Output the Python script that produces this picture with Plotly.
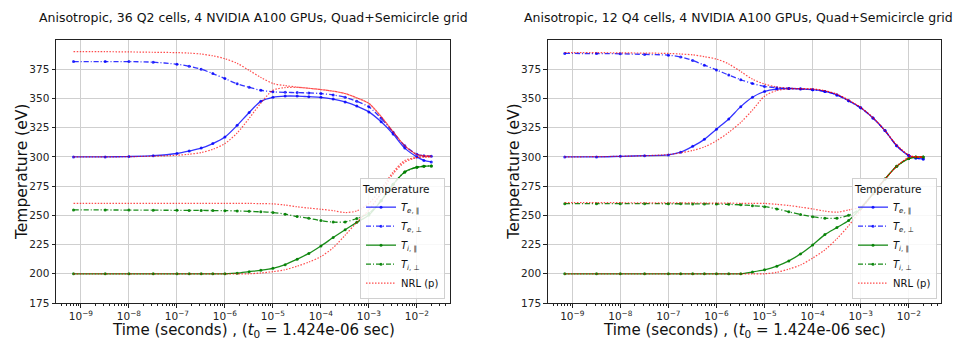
import plotly.graph_objects as go

# ---------------- data ----------------
time_s = [7.0e-10, 3.2e-9, 1.0e-8, 3.2e-8, 1.0e-7, 1.8e-7, 3.2e-7, 5.6e-7,
          1.0e-6, 1.8e-6, 3.2e-6, 5.6e-6, 1.0e-5, 1.8e-5, 3.2e-5, 5.6e-5,
          1.0e-4, 1.8e-4, 3.2e-4, 5.6e-4, 1.0e-3, 1.8e-3, 3.2e-3, 5.6e-3,
          1.0e-2, 1.4e-2, 2.0e-2]

# Left panel: 36 Q2 cells
L_te_par = [300, 300, 300.3, 301, 302.9, 305, 307.5, 311.4, 317, 327, 338, 347.5, 351,
            352, 352, 351.5, 351, 349.5, 347, 343.5, 338.5, 330, 319.5, 307.5, 300, 297, 295.7]
L_te_perp = [381.5, 381.5, 381.5, 381, 379.3, 377.5, 375, 371.3, 367, 362.5, 359.5, 357, 355.7,
             355.2, 355, 354.7, 354.2, 353, 351, 347.5, 342.8, 333, 321, 309.5, 302.3, 301, 300.6]
L_ti_par = [200, 200, 200, 200, 200, 200, 200, 200, 200, 200.5, 201.8, 203, 204.7,
            207.8, 212.5, 217.4, 223.8, 231, 237.7, 244, 250.3, 262.5, 276.5, 287, 291.2, 292, 292.3]
L_ti_perp = [254.6, 254.6, 254.5, 254.4, 254.3, 254.2, 254.2, 254.1, 254, 253.8, 253.4, 253, 252.4,
             251, 249, 247.5, 245.5, 244.2, 244.4, 247.3, 251.8, 262.5, 276.5, 287, 291.2, 292, 292.3]
L_nrl_e1 = [390, 390, 389.8, 389.5, 389.2, 388.8, 388, 386.5, 384, 380, 374, 368, 362.8,
            361, 359.7, 358.7, 357.6, 356.2, 354.2, 350.5, 345.7, 334.5, 321.5, 309.5, 302, 301, 300.6]
L_nrl_e2 = [300, 300, 300.2, 300.6, 301.4, 302.3, 303.7, 306.5, 311.4, 320.5, 333, 346, 357,
            359.3, 359.5, 358.7, 357.6, 356.2, 354.2, 350.5, 345.7, 334.5, 321.5, 309.5, 302, 301, 300.6]
L_nrl_i1 = [260.3, 260.3, 260.3, 260.3, 260.3, 260.3, 260.3, 260.3, 260.3, 260.2, 260.2, 260, 259.8,
            258.8, 257.3, 256.2, 255.2, 254, 252.4, 253.8, 260.3, 272.5, 287, 297, 299.5, 300, 300]
L_nrl_i2 = [200, 200, 200, 200, 200, 200, 200, 200, 200, 200, 200, 200.7, 201.8,
            203.5, 206.5, 210, 214.7, 222.3, 233, 244, 254.6, 269, 285.5, 295.5, 299.5, 300, 300]

# Right panel: 12 Q4 cells
R_te_par = [300, 300, 300.5, 301, 301.7, 304, 309, 315, 323.7, 332.5, 343, 351, 356,
            358, 358.5, 358.2, 357.5, 356, 353, 348, 342, 333.3, 322.5, 309.5, 301.1, 299, 298.3]
R_te_perp = [388.5, 388.4, 388.2, 387.7, 387, 385.5, 382.5, 378.5, 374.4, 370, 366, 362.8, 360.3,
             359.2, 358.6, 358, 357.5, 356, 353, 348, 342, 333.3, 322.5, 309.5, 301.1, 299, 298.3]
R_ti_par = [200, 200, 200, 200, 200, 200, 200, 200, 200, 200, 200, 201.5, 203.4,
            206.5, 211, 217, 224.7, 233.5, 239.5, 245.5, 256, 268.5, 281, 292, 298.6, 299.8, 300]
R_ti_perp = [260, 260, 260, 260, 259.9, 259.9, 259.8, 259.8, 259.7, 259.4, 259, 258.3, 257.4,
             255.5, 253, 250.8, 248.8, 247.6, 247.6, 250, 256, 268.5, 281, 292, 298.6, 299.8, 300]
R_nrl_e1 = [389.3, 389.2, 389, 388.8, 388.5, 388, 387.3, 385.7, 383.7, 379.5, 373, 366.5, 362.3,
            359.8, 358.8, 358.4, 358.1, 356.6, 353.6, 348.5, 342.3, 333.5, 322.5, 310, 301.5, 300, 299.7]
R_nrl_e2 = [300, 300.2, 300.5, 301, 302, 303.5, 305.5, 308.5, 313.8, 321, 329.5, 340, 351.9,
            356.8, 358, 358.2, 358.1, 356.6, 353.6, 348.5, 342.3, 333.5, 322.5, 310, 301.5, 300, 299.7]
R_nrl_i1 = [260.8, 260.8, 260.8, 260.7, 260.7, 260.6, 260.6, 260.5, 260.5, 260.4, 260.3, 260.3, 260.2,
            259.4, 258.4, 257, 255.5, 253.6, 252.7, 254.6, 257.4, 268.8, 281, 292, 299.5, 300, 300]
R_nrl_i2 = [200, 200, 200, 200, 200, 200, 200, 200, 200, 200, 200, 200, 200,
            201.3, 204, 207.5, 213.4, 220.5, 230, 241, 254.5, 268.3, 281, 292, 299.5, 300, 300]

titles = ["Anisotropic, 36 Q2 cells, 4 NVIDIA A100 GPUs, Quad+Semicircle grid",
          "Anisotropic, 12 Q4 cells, 4 NVIDIA A100 GPUs, Quad+Semicircle grid"]
y_ticks = [175, 200, 225, 250, 275, 300, 325, 350, 375]
x_tick_exp = [-9, -8, -7, -6, -5, -4, -3, -2]
names = ["<i>T</i><sub><i>e</i>, ∥</sub>", "<i>T</i><sub><i>e</i>, ⊥</sub>",
         "<i>T</i><sub><i>i</i>, ∥</sub>", "<i>T</i><sub><i>i</i>, ⊥</sub>", "NRL (p)"]

# ---------------- figure ----------------
W, H = 972, 339
fig = go.Figure()

BLUE = "rgba(0,0,255,0.8)"
GREEN = "rgba(0,128,0,0.9)"
RED = "rgba(255,0,0,0.7)"
DASHDOT = "5px,2px,1px,2px"
DOT = "1.5px,1.5px"

panels = [
    ("x", "y", "legend", [L_te_par, L_te_perp, L_ti_par, L_ti_perp], [L_nrl_e1, L_nrl_e2, L_nrl_i1, L_nrl_i2]),
    ("x2", "y2", "legend2", [R_te_par, R_te_perp, R_ti_par, R_ti_perp], [R_nrl_e1, R_nrl_e2, R_nrl_i1, R_nrl_i2]),
]
for xa, ya, leg, sims, nrls in panels:
    styles = [(BLUE, "solid"), (BLUE, DASHDOT), (GREEN, "solid"), (GREEN, DASHDOT)]
    for k, (vals, (col, dash)) in enumerate(zip(sims, styles)):
        fig.add_trace(go.Scatter(
            x=time_s, y=vals, xaxis=xa, yaxis=ya, legend=leg, name=names[k],
            mode="lines+markers", line=dict(color=col, width=1.3, dash=dash, shape="spline", smoothing=0.8),
            marker=dict(size=3, color=col), showlegend=True))
    for k, vals in enumerate(nrls):
        fig.add_trace(go.Scatter(
            x=time_s, y=vals, xaxis=xa, yaxis=ya, legend=leg, name=names[4],
            mode="lines", line=dict(color=RED, width=1.2, dash=DOT, shape="spline", smoothing=0.8),
            showlegend=(k == 0)))

minor_vals = [m * 10 ** e for e in range(-10, -1) for m in range(2, 10)]
xt_vals = [10 ** e for e in x_tick_exp]
xt_text = ["10<sup>−%d</sup>" % (-e) for e in x_tick_exp]

axis_common = dict(showline=True, linecolor="#222", linewidth=1, mirror=True, automargin=False,
                   ticks="outside", ticklen=3.5, tickcolor="#222", tickwidth=1,
                   showgrid=True, gridcolor="#cfcfcf", gridwidth=1, zeroline=False,
                   tickfont=dict(family="DejaVu Sans", size=10.5, color="#222"))

doms = [(56 / W, 450 / W), (547.7 / W, 941 / W)]
xranges = [[-9.52, -1.31], [-9.51, -1.33]]
ydom = [1 - 303 / H, 1 - 40 / H]
for i, nm in enumerate(["", "2"]):
    fig.update_layout(**{
        "xaxis" + nm: dict(axis_common, type="log", domain=list(doms[i]), range=xranges[i],
                           tickmode="array", tickvals=xt_vals, ticktext=xt_text, anchor="y" + nm,
                           minor=dict(tickmode="array", tickvals=minor_vals, ticks="outside",
                                      ticklen=2, tickcolor="#222", showgrid=False)),
        "yaxis" + nm: dict(axis_common, domain=ydom, range=[175, 400], tickmode="array",
                           tickvals=y_ticks, anchor="x" + nm),
    })

legend_common = dict(
    title=dict(text="Temperature", font=dict(family="DejaVu Sans", size=10.5, color="#111")),
    font=dict(family="DejaVu Sans", size=10, color="#111"),
    bgcolor="rgba(255,255,255,0.85)", bordercolor="#d0d0d0", borderwidth=1,
    xanchor="right", yanchor="bottom", tracegroupgap=0, itemwidth=30)
fig.update_layout(
    legend=dict(legend_common, x=445 / W, y=1 - 299 / H),
    legend2=dict(legend_common, x=937 / W, y=1 - 299 / H),
)

ann = []
centers = [253, 738]
for i in range(2):
    ann.append(dict(text=titles[i], x=centers[i] / W, y=1 - 17 / H, xref="paper", yref="paper",
                    showarrow=False, xanchor="center", yanchor="middle",
                    font=dict(family="DejaVu Sans", size=12.5, color="#111")))
    midx = (doms[i][0] + doms[i][1]) / 2
    ann.append(dict(text="Time (seconds) , (<i>t</i><sub>0</sub> = 1.424e-06 sec)",
                    x=midx, y=1 - 330 / H, xref="paper", yref="paper", showarrow=False,
                    xanchor="center", yanchor="middle",
                    font=dict(family="DejaVu Sans", size=15, color="#111")))
    ann.append(dict(text="Temperature (eV)", x=(22 + 491.7 * i) / W, y=1 - 172 / H,
                    xref="paper", yref="paper", showarrow=False, textangle=-90,
                    xanchor="center", yanchor="middle",
                    font=dict(family="DejaVu Sans", size=15.5, color="#111")))

fig.update_layout(width=W, height=H, margin=dict(l=0, r=0, t=0, b=0),
                  paper_bgcolor="white", plot_bgcolor="white", annotations=ann)

fig.write_html("out.html")
